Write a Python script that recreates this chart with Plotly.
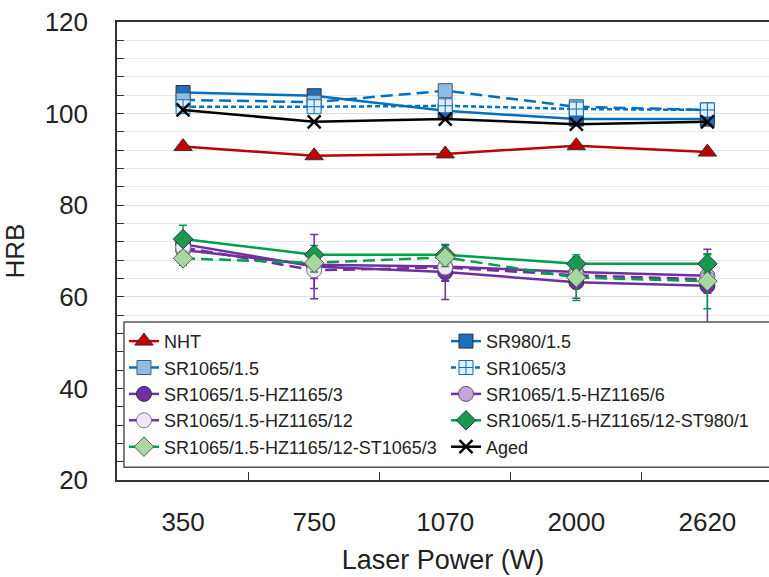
import plotly.graph_objects as go

categories = ["350", "750", "1070", "2000", "2620"]

nht = [92.8, 90.8, 91.2, 93.0, 91.6]
sr980_15 = [104.6, 103.9, 100.6, 98.8, 98.8]
sr1065_15 = [103.0, 102.5, 105.0, 101.5, 100.8]
sr1065_3 = [101.5, 101.5, 101.7, 101.0, 100.8]
hz3 = [71.5, 66.6, 65.4, 63.2, 62.4]
hz3_err = [1.5, 7.0, 6.0, 3.5, 8.0]
hz6 = [70.2, 67.0, 66.6, 65.4, 64.6]
hz6_err = [2.0, 3.0, 3.0, 2.0, 3.0]
hz12 = [70.8, 65.8, 66.4, 64.7, 63.8]
hz12_err = [2.0, 4.0, 3.0, 2.0, 3.0]
st980 = [72.6, 69.2, 69.2, 67.2, 67.2]
st980_err = [3.0, 2.0, 2.0, 1.5, 2.0]
st1065 = [68.4, 67.4, 68.6, 64.2, 63.4]
st1065_err = [1.5, 2.0, 2.0, 5.0, 6.0]
aged = [100.8, 98.2, 98.8, 97.7, 98.2]

xs = list(range(len(categories)))

RED = "#C00000"
BLUE = "#0070C0"
PURPLE = "#7030A0"
GREEN = "#00A04A"

series = [
    dict(name="NHT", y=nht, color=RED, dash="solid", symbol="triangle-up", mcolor=RED, mline="#333", size=16, err=None),
    dict(name="SR980/1.5", y=sr980_15, color=BLUE, dash="solid", symbol="square", mcolor="#1f6fbf", mline="#333", size=14, err=None),
    dict(name="SR1065/1.5", y=sr1065_15, color=BLUE, dash="12px,6px", symbol="square", mcolor="#8cbde6", mline="#555", size=14, err=None),
    dict(name="SR1065/3", y=sr1065_3, color=BLUE, dash="5px,3px", symbol="square-cross", mcolor="#e3eef9", mline=BLUE, size=14, err=None),
    dict(name="SR1065/1.5-HZ1165/3", y=hz3, color=PURPLE, dash="solid", symbol="circle", mcolor=PURPLE, mline="#333", size=15, err=hz3_err),
    dict(name="SR1065/1.5-HZ1165/6", y=hz6, color=PURPLE, dash="solid", symbol="circle", mcolor="#c4a6dc", mline="#555", size=15, err=hz6_err),
    dict(name="SR1065/1.5-HZ1165/12", y=hz12, color=PURPLE, dash="12px,6px", symbol="circle", mcolor="#efe8f5", mline="#8a6aa8", size=15, err=hz12_err),
    dict(name="SR1065/1.5-HZ1165/12-ST980/1", y=st980, color=GREEN, dash="solid", symbol="diamond", mcolor="#1a9a50", mline="#333", size=15, err=st980_err),
    dict(name="SR1065/1.5-HZ1165/12-ST1065/3", y=st1065, color=GREEN, dash="12px,6px", symbol="diamond", mcolor="#a5d9a0", mline="#555", size=15, err=st1065_err),
    dict(name="Aged", y=aged, color="#000000", dash="solid", symbol="x-thin", mcolor="#000000", mline="#000000", size=13, err=None),
]

fig = go.Figure()
for s in series:
    kw = {}
    if s["err"] is not None:
        kw["error_y"] = dict(type="data", array=s["err"], visible=True, color=s["color"], thickness=1.5, width=4)
    marker = dict(symbol=s["symbol"], size=s["size"], color=s["mcolor"],
                  line=dict(color=s["mline"], width=2.5 if s["symbol"] == "x-thin" else 1))
    fig.add_trace(go.Scatter(
        x=xs, y=s["y"], name=s["name"], mode="lines+markers",
        line=dict(color=s["color"], width=2.5, dash=s["dash"]),
        marker=marker, **kw))

FONT = "Liberation Sans, Arial, sans-serif"

# legend frame (extends past the right edge like the reference)
fig.add_shape(type="rect", xref="paper", yref="paper",
              x0=0.0107, x1=1.05, y0=0.028, y1=0.345,
              fillcolor="white", line=dict(color="#555", width=1.5), layer="above")

fig.update_layout(
    width=769, height=577,
    margin=dict(l=117, r=0, t=22, b=97, autoexpand=False),
    paper_bgcolor="white", plot_bgcolor="white",
    font=dict(family=FONT, color="#222"),
    showlegend=True,
    legend=dict(
        orientation="h", x=0.0107, y=0.343, xanchor="left", yanchor="top",
        bgcolor="rgba(0,0,0,0)", borderwidth=0,
        font=dict(size=18, family=FONT, color="#222"),
        entrywidth=277, entrywidthmode="pixels", traceorder="normal",
    ),
    xaxis=dict(
        range=[-0.504, 4.47], tickvals=xs, ticktext=categories,
        tickfont=dict(size=26, family=FONT, color="#222"),
        ticks="", showgrid=False, zeroline=False,
        showline=True, linecolor="#333", linewidth=1.5, mirror=True,
        ticklabelstandoff=18,
        minor=dict(tickvals=[0.5, 1.5, 2.5, 3.5], ticks="inside", ticklen=8, tickcolor="#333", showgrid=False),
        title=dict(text="Laser Power (W)", font=dict(size=27, family=FONT, color="#222"), standoff=14),
    ),
    yaxis=dict(
        range=[20, 120], dtick=20, tick0=20,
        tickfont=dict(size=26, family=FONT, color="#222"),
        ticks="inside", ticklen=7, tickcolor="#333",
        showgrid=True, gridcolor="#dedede", gridwidth=1, zeroline=False,
        showline=True, linecolor="#333", linewidth=1.5,
        ticklabelstandoff=22,
        minor=dict(dtick=4, tick0=20, ticks="inside", ticklen=7, tickcolor="#333", showgrid=True, gridcolor="#e8e8e8", gridwidth=1),
        title=dict(text="HRB", font=dict(size=26, family=FONT, color="#222"), standoff=16),
    ),
)

fig.write_html("out.html")
